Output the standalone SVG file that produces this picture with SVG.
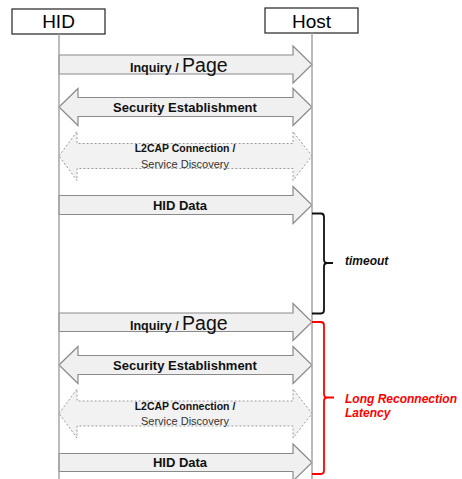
<svg xmlns="http://www.w3.org/2000/svg" width="462" height="479" viewBox="0 0 462 479">
  <style>
    .actor { fill: #ffffff; stroke: #222222; stroke-width: 1.2; }
    .actor-label { font-family: "Liberation Sans", Arial, sans-serif; font-size: 19px; fill: #000000; text-anchor: middle; }
    .lifeline { stroke: #a6a6a6; stroke-width: 1.5; fill: none; }
    .msg { fill: #f0f0f0; stroke: #8a8a8a; stroke-width: 1.2; stroke-linejoin: miter; }
    .msg-dashed { fill: #f2f2f2; stroke: #9a9a9a; stroke-width: 1; stroke-dasharray: 2 2; }
    .lbl { font-family: "Liberation Sans", Arial, sans-serif; fill: #111111; text-anchor: middle; }
    .b13 { font-size: 13px; font-weight: bold; }
    .b10 { font-size: 10.5px; font-weight: bold; }
    .r10 { font-size: 11px; fill: #333333; }
    .brace { fill: none; stroke-width: 1.8; stroke-linejoin: round; }
    .note { font-family: "Liberation Sans", Arial, sans-serif; font-size: 12px; font-weight: bold; font-style: italic; }
  </style>

  <!-- participants -->
  <g id="hid">
    <rect class="actor" x="12" y="9" width="93" height="25"/>
    <text class="actor-label" x="58.5" y="28">HID</text>
  </g>
  <g id="host">
    <rect class="actor" x="265" y="8" width="93" height="25"/>
    <text class="actor-label" x="311.5" y="27.5">Host</text>
  </g>

  <!-- message arrows -->
  <g id="connectors">
    <g id="inquiry-1">
      <path class="msg" d="M59,55 H293 V46 L312,64.5 L293,83 V74 H59 Z"/>
      <text class="lbl" x="130" y="72" style="text-anchor:start"><tspan font-size="12.5" font-weight="bold">Inquiry / </tspan><tspan font-size="19.5">Page</tspan></text>
    </g>
    <g id="security-1">
      <path class="msg" d="M59,107 L78,88.5 V97.5 H293 V88.5 L312,107 L293,125.5 V116.5 H78 V125.5 Z"/>
      <text class="lbl b13" x="185" y="111.5">Security Establishment</text>
    </g>
    <g id="l2cap-1">
      <path class="msg-dashed" d="M59,156 L77,131.5 V143.5 H293 V131.5 L312,156 L293,180.5 V168.5 H77 V180.5 Z"/>
      <text class="lbl b10" x="185" y="152">L2CAP Connection /</text>
      <text class="lbl r10" x="185" y="167.5">Service Discovery</text>
    </g>
    <g id="hid-data-1">
      <path class="msg" d="M59,195.5 H293 V186.5 L312,205 L293,223.5 V214.5 H59 Z"/>
      <text class="lbl b13" x="180" y="209.5">HID Data</text>
    </g>
    <g id="inquiry-2">
      <path class="msg" d="M59,313 H293 V303.5 L312,322 L293,340.5 V331.5 H59 Z"/>
      <text class="lbl" x="130" y="330" style="text-anchor:start"><tspan font-size="12.5" font-weight="bold">Inquiry / </tspan><tspan font-size="19.5">Page</tspan></text>
    </g>
    <g id="security-2">
      <path class="msg" d="M59,365 L78,346.5 V355.5 H293 V346.5 L312,365 L293,383.5 V374.5 H78 V383.5 Z"/>
      <text class="lbl b13" x="185" y="369.5">Security Establishment</text>
    </g>
    <g id="l2cap-2">
      <path class="msg-dashed" d="M59,413.5 L77,389 V401 H293 V389 L312,413.5 L293,438 V426 H77 V438 Z"/>
      <text class="lbl b10" x="185" y="409.5">L2CAP Connection /</text>
      <text class="lbl r10" x="185" y="425">Service Discovery</text>
    </g>
    <g id="hid-data-2">
      <path class="msg" d="M59,453.5 H293 V444 L312,462.5 L293,481 V471.5 H59 Z"/>
      <text class="lbl b13" x="180" y="467">HID Data</text>
    </g>
  </g>

  <!-- lifelines -->
  <g id="lifelines">
    <line class="lifeline" x1="59" y1="34" x2="59" y2="479"/>
    <line class="lifeline" x1="312" y1="33" x2="312" y2="479"/>
  </g>

  <!-- timing annotations -->
  <g id="timeout">
    <path class="brace" stroke="#111111" d="M312,213.5 H321 Q324,213.5 324,217 V259.5 Q324,263 327.5,263 H333 M327.5,263 Q324,263 324,266.5 V310 Q324,313.5 321,313.5 H312"/>
    <text class="note" x="345" y="265" fill="#111111">timeout</text>
  </g>
  <g id="reconnection-latency">
    <path class="brace" stroke="#ff0000" d="M312,322 H321 Q324,322 324,325.5 V394 Q324,397.5 327.5,397.5 H334 M327.5,397.5 Q324,397.5 324,401 V470.5 Q324,474 321,474 H312"/>
    <text class="note" x="345" y="403" fill="#ff0000">Long Reconnection</text>
    <text class="note" x="345" y="417" fill="#ff0000">Latency</text>
  </g>
</svg>
